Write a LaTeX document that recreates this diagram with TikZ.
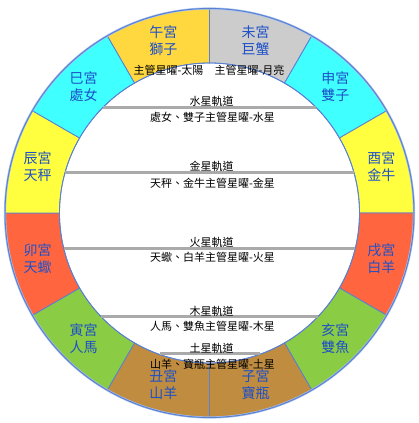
\documentclass[tikz,border=0pt]{standalone}
\usepackage{fontspec}
\newfontfamily\cjk{Noto Sans CJK TC}
\definecolor{ringline}{RGB}{90,128,210}
\definecolor{halo}{RGB}{170,195,240}
\definecolor{sectext}{RGB}{30,80,200}
\definecolor{cWu}{RGB}{255,216,64}
\definecolor{cWei}{RGB}{204,204,204}
\definecolor{cCyan}{RGB}{64,255,255}
\definecolor{cYel}{RGB}{255,255,64}
\definecolor{cRed}{RGB}{255,102,64}
\definecolor{cGrn}{RGB}{138,204,68}
\definecolor{cBrn}{RGB}{191,140,64}
\definecolor{orbit}{RGB}{170,170,170}
\tikzset{
  seclabel/.style={text=sectext, align=center, inner sep=0pt, font=\cjk\fontsize{14}{17}\selectfont},
  orblabel/.style={text=black, inner sep=0pt, font=\cjk\fontsize{11}{13}\selectfont},
  orbline/.style={draw=orbit, line width=3pt},
}
\begin{document}
\begin{tikzpicture}[x=1pt,y=1pt]
\useasboundingbox (0,0) rectangle (418,423);
\begin{scope}[shift={(209.5,210)}]
\foreach \a/\c/\t/\n in {105/cWu/{午宮\\獅子}/wu, 75/cWei/{未宮\\巨蟹}/wei, 45/cCyan/{申宮\\雙子}/shen, 15/cYel/{酉宮\\金牛}/you, -15/cRed/{戌宮\\白羊}/xu, -45/cGrn/{亥宮\\雙魚}/hai, -75/cBrn/{子宮\\寶瓶}/zi, -105/cBrn/{丑宮\\山羊}/chou, -135/cGrn/{寅宮\\人馬}/yin, -165/cRed/{卯宮\\天蠍}/mao, 165/cYel/{辰宮\\天秤}/chen, 135/cCyan/{巳宮\\處女}/si} {
  \filldraw[fill=\c, draw=ringline, line width=0.8pt]
    (\a-15:150) -- (\a-15:204.5) arc[start angle=\a-15, end angle=\a+15, radius=204.5]
    -- (\a+15:150) arc[start angle=\a+15, end angle=\a-15, radius=150] -- cycle;
  \node[seclabel] (\n) at (\a:178) {\t};
}
\draw[halo, line width=2.2pt] (0,0) circle[radius=204.5];
\draw[ringline, line width=1pt] (0,0) circle[radius=204.5];
\draw[ringline, line width=0.8pt] (0,0) circle[radius=150];
% orbits
\coordinate (meL) at (-106.6,105.5); \coordinate (meR) at (106.6,105.5);
\coordinate (veL) at (-144.6,40); \coordinate (veR) at (144.6,40);
\coordinate (maL) at (-145.6,-36); \coordinate (maR) at (145.6,-36);
\coordinate (juL) at (-108.1,-104); \coordinate (juR) at (108.1,-104);
\coordinate (saL) at (-50,-141); \coordinate (saR) at (50,-141);
\draw[orbline] (meL) -- (meR);
\draw[orbline] (veL) -- (veR);
\draw[orbline] (maL) -- (maR);
\draw[orbline] (juL) -- (juR);
\draw[orbline] (saL) -- (saR);
\node[orblabel] (sun) at (-41,143) {主管星曜-太陽};
\node[orblabel] (moon) at (40,143) {主管星曜-月亮};
\node[orblabel] (meT) at (2,112) {水星軌道};
\node[orblabel] (meB) at (3,96) {處女、雙子主管星曜-水星};
\node[orblabel] (veT) at (2,47) {金星軌道};
\node[orblabel] (veB) at (3,30) {天秤、金牛主管星曜-金星};
\node[orblabel] (maT) at (2,-29) {火星軌道};
\node[orblabel] (maB) at (3,-44) {天蠍、白羊主管星曜-火星};
\node[orblabel] (juT) at (2,-98) {木星軌道};
\node[orblabel] (juB) at (3,-113) {人馬、雙魚主管星曜-木星};
\node[orblabel] (saT) at (2,-135) {土星軌道};
\node[orblabel] (saB) at (3,-151) {山羊、寶瓶主管星曜-土星};
\end{scope}
\end{tikzpicture}
\end{document}
